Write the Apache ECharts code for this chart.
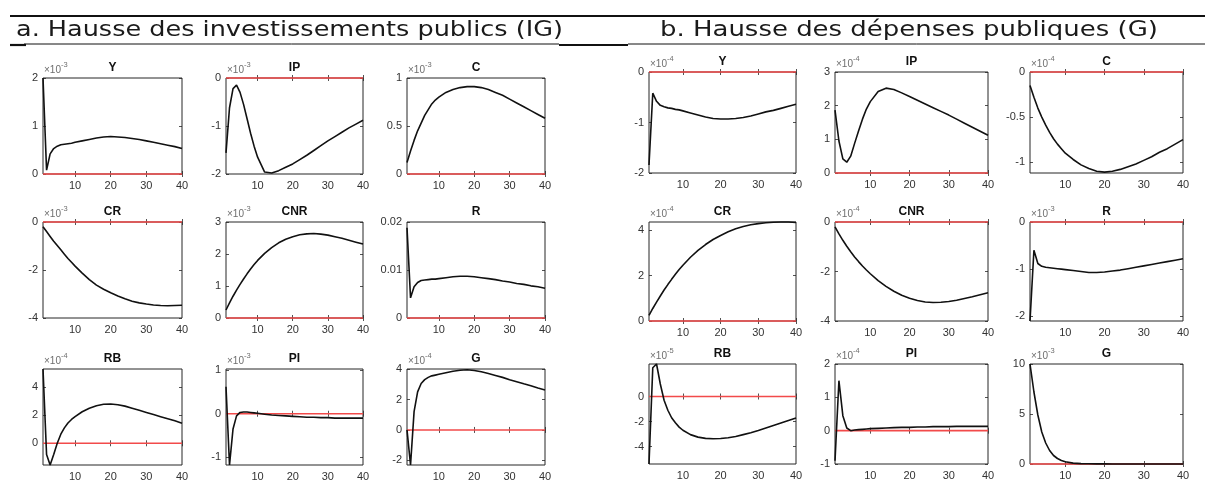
<!DOCTYPE html>
<html>
<head>
<meta charset="utf-8">
<script src="https://cdn.jsdelivr.net/npm/echarts@6/dist/echarts.min.js"></script>
<style>
  html, body { margin: 0; padding: 0; background: #fff; }
  #chart { width: 1211px; height: 491px; }
</style>
</head>
<body>
<div id="chart"></div>
<script>
// Horizons (quarters) at which each impulse response is sampled
const steps = [1,2,3,4,5,6,7,8,9,10,12,14,16,18,20,22,24,26,28,30,32,34,36,38,40];
const xTicks = [10, 20, 30, 40];
const varNames = ['Y', 'IP', 'C', 'CR', 'CNR', 'R', 'RB', 'PI', 'G'];
const panelTitles = ['a. Hausse des investissements publics (IG)', 'b. Hausse des dépenses publiques (G)'];

// Panel a: public investment shock (values in units of 10^exp)
const igY   = [2.0,0.08,0.42,0.53,0.58,0.61,0.62,0.63,0.64,0.66,0.69,0.72,0.75,0.77,0.78,0.77,0.76,0.74,0.72,0.69,0.66,0.63,0.6,0.57,0.53];
const igIP  = [-1.56,-0.62,-0.22,-0.15,-0.3,-0.55,-0.85,-1.15,-1.42,-1.65,-1.96,-1.98,-1.93,-1.86,-1.79,-1.7,-1.61,-1.51,-1.41,-1.31,-1.22,-1.13,-1.04,-0.96,-0.88];
const igC   = [0.12,0.24,0.35,0.45,0.53,0.61,0.67,0.73,0.77,0.8,0.85,0.88,0.9,0.91,0.91,0.9,0.88,0.85,0.82,0.78,0.74,0.7,0.66,0.62,0.58];
const igCR  = [-0.2,-0.4,-0.6,-0.8,-0.98,-1.16,-1.34,-1.52,-1.68,-1.84,-2.13,-2.4,-2.63,-2.8,-2.95,-3.08,-3.2,-3.3,-3.37,-3.42,-3.46,-3.48,-3.49,-3.48,-3.47];
const igCNR = [0.25,0.47,0.68,0.87,1.05,1.22,1.38,1.53,1.67,1.8,2.02,2.2,2.35,2.46,2.54,2.6,2.63,2.64,2.62,2.59,2.54,2.49,2.43,2.37,2.31];
const igR   = [0.0188,0.0042,0.0065,0.0074,0.0078,0.0079,0.008,0.0081,0.0081,0.0082,0.0084,0.0086,0.0087,0.0087,0.0086,0.0084,0.0082,0.008,0.0077,0.0075,0.0072,0.007,0.0067,0.0065,0.0062];
const igRB  = [5.3,-0.8,-1.55,-0.8,0.0,0.65,1.1,1.45,1.7,1.9,2.25,2.5,2.68,2.78,2.8,2.75,2.65,2.5,2.35,2.2,2.05,1.9,1.75,1.6,1.43];
const igPI  = [0.62,-1.18,-0.35,-0.05,0.03,0.04,0.04,0.03,0.02,0.01,-0.01,-0.03,-0.04,-0.05,-0.06,-0.07,-0.08,-0.08,-0.09,-0.09,-0.1,-0.1,-0.1,-0.1,-0.1];
const igG   = [0.0,-2.3,1.2,2.5,3.05,3.3,3.45,3.55,3.6,3.65,3.75,3.85,3.92,3.95,3.9,3.82,3.7,3.58,3.45,3.3,3.17,3.03,2.9,2.75,2.62];
const igExp    = [-3, -3, -3, -3, -3, null, -4, -3, -4];
const igRange  = [[0,2], [-2,0], [0,1], [-4,0], [0,3], [0,0.02], [-1.55,5.3], [-1.18,1.03], [-2.3,4]];
const igTicks  = [[0,1,2], [-2,-1,0], [0,0.5,1], [-4,-2,0], [0,1,2,3], [0,0.01,0.02], [0,2,4], [-1,0,1], [-2,0,2,4]];

// Panel b: public spending shock (values in units of 10^exp)
const gY   = [-1.84,-0.42,-0.58,-0.66,-0.69,-0.71,-0.72,-0.74,-0.75,-0.77,-0.81,-0.85,-0.89,-0.92,-0.93,-0.93,-0.92,-0.9,-0.87,-0.83,-0.79,-0.76,-0.72,-0.68,-0.64];
const gIP  = [1.87,0.95,0.42,0.32,0.5,0.88,1.25,1.6,1.9,2.12,2.42,2.52,2.48,2.38,2.27,2.16,2.05,1.94,1.83,1.72,1.6,1.48,1.36,1.24,1.12];
const gC   = [-0.15,-0.28,-0.4,-0.5,-0.59,-0.67,-0.74,-0.8,-0.85,-0.9,-0.97,-1.03,-1.07,-1.1,-1.11,-1.1,-1.08,-1.05,-1.02,-0.98,-0.94,-0.89,-0.85,-0.8,-0.75];
const gCR  = [0.25,0.55,0.83,1.1,1.36,1.6,1.83,2.05,2.26,2.45,2.8,3.1,3.36,3.58,3.76,3.92,4.05,4.15,4.23,4.28,4.32,4.34,4.35,4.35,4.33];
const gCNR = [-0.2,-0.48,-0.74,-0.98,-1.2,-1.41,-1.6,-1.78,-1.94,-2.09,-2.37,-2.6,-2.8,-2.96,-3.08,-3.17,-3.23,-3.25,-3.24,-3.21,-3.16,-3.09,-3.02,-2.94,-2.86];
const gR   = [-2.1,-0.6,-0.88,-0.94,-0.96,-0.97,-0.98,-0.99,-1.0,-1.01,-1.03,-1.05,-1.07,-1.07,-1.06,-1.04,-1.02,-0.99,-0.96,-0.93,-0.9,-0.87,-0.84,-0.81,-0.78];
const gRB  = [-5.4,2.3,2.6,1.0,-0.3,-1.1,-1.7,-2.1,-2.45,-2.7,-3.05,-3.25,-3.35,-3.38,-3.36,-3.3,-3.2,-3.05,-2.9,-2.72,-2.52,-2.32,-2.12,-1.92,-1.72];
const gPI  = [-0.9,1.5,0.45,0.08,0.0,0.02,0.03,0.04,0.05,0.06,0.07,0.08,0.09,0.1,0.1,0.11,0.11,0.12,0.12,0.12,0.13,0.13,0.13,0.13,0.13];
const gG   = [10,7.2,4.9,3.2,2.1,1.35,0.85,0.55,0.35,0.22,0.09,0.04,0.02,0.01,0.01,0,0,0,0,0,0,0,0,0,0];
const gExp    = [-4, -4, -4, -4, -4, -3, -5, -4, -3];
const gRange  = [[-2,0], [0,3], [-1.12,0], [0,4.35], [-4,0], [-2.1,0], [-5.4,2.6], [-1,2], [0,10]];
const gTicks  = [[-2,-1,0], [0,1,2,3], [-1,-0.5,0], [0,2,4], [-4,-2,0], [-2,-1,0], [-4,-2,0], [-1,0,1,2], [0,5,10]];

// Layout of the 3x3 subplot blocks (pixel edges of each axes box)
const layouts = [
  { cols: [[43,182],[226,363],[407,545]], rows: [[78,174],[222,318],[369,465]] },
  { cols: [[649,796],[835,988],[1030,1183]], rows: [[72,173],[222,321],[364,464]] }
];

const panels = [
  { series: [igY, igIP, igC, igCR, igCNR, igR, igRB, igPI, igG], exp: igExp, range: igRange, ticks: igTicks },
  { series: [gY, gIP, gC, gCR, gCNR, gR, gRB, gPI, gG], exp: gExp, range: gRange, ticks: gTicks }
];

const INK = '#262626';
const LABEL = { fontFamily: 'Liberation Sans, Arial, sans-serif', fontSize: 11, color: '#333' };

const grid = [], xAxis = [], yAxis = [], series = [], graphic = [];

panels.forEach((panel, p) => {
  const lay = layouts[p];
  varNames.forEach((name, k) => {
    const [x0, x1] = lay.cols[k % 3];
    const [y0, y1] = lay.rows[Math.floor(k / 3)];
    const g = grid.length;
    grid.push({ left: x0, top: y0, width: x1 - x0, height: y1 - y0, show: true,
                borderColor: INK, borderWidth: 1, backgroundColor: '#fff', containLabel: false });

    const xBase = xAxis.length;
    xAxis.push({ gridIndex: g, type: 'value', min: 1, max: 40, position: 'bottom',
      axisLine: { show: false }, splitLine: { show: false },
      axisTick: { show: true, inside: true, length: 3, customValues: xTicks, lineStyle: { color: INK, width: 0.8 } },
      axisLabel: Object.assign({ customValues: xTicks, margin: 6 }, LABEL) });
    xAxis.push({ gridIndex: g, type: 'value', min: 1, max: 40, position: 'top',
      axisLine: { show: false }, splitLine: { show: false }, axisLabel: { show: false },
      axisTick: { show: true, inside: true, length: 3, customValues: xTicks, lineStyle: { color: INK, width: 0.8 } } });

    const [lo, hi] = panel.range[k];
    const tv = panel.ticks[k];
    const e = panel.exp[k];
    const yBase = yAxis.length;
    yAxis.push({ gridIndex: g, type: 'value', min: lo, max: hi, position: 'left',
      axisLine: { show: false }, splitLine: { show: false },
      axisTick: { show: true, inside: true, length: 3, customValues: tv, lineStyle: { color: INK, width: 0.8 } },
      axisLabel: Object.assign({ customValues: tv, margin: 5 }, LABEL),
      name: e === null ? '' : '{a|×10}{b|' + e + '}',
      nameLocation: 'end', nameGap: 3,
      nameTextStyle: { align: 'left', verticalAlign: 'bottom', padding: [0, 0, 0, 1],
        rich: {
          a: { fontFamily: 'Liberation Sans, Arial, sans-serif', fontSize: 10, color: '#6e6e6e', verticalAlign: 'bottom', lineHeight: 14 },
          b: { fontFamily: 'Liberation Sans, Arial, sans-serif', fontSize: 7.5, color: '#6e6e6e', verticalAlign: 'top', lineHeight: 14, padding: [0, 0, 6, 0] }
        } } });
    yAxis.push({ gridIndex: g, type: 'value', min: lo, max: hi, position: 'right',
      axisLine: { show: false }, splitLine: { show: false }, axisLabel: { show: false },
      axisTick: { show: true, inside: true, length: 3, customValues: tv, lineStyle: { color: INK, width: 0.8 } } });

    // zero reference line
    series.push({ type: 'line', xAxisIndex: xBase, yAxisIndex: yBase, data: [[1, 0], [40, 0]],
      symbol: 'none', clip: false, silent: true, z: 3,
      lineStyle: { color: '#f24a4a', width: 1.6 } });
    // impulse response
    const vals = panel.series[k];
    series.push({ type: 'line', xAxisIndex: xBase, yAxisIndex: yBase,
      data: steps.map((t, i) => [t, vals[i]]),
      symbol: 'none', clip: false, silent: true, z: 4,
      lineStyle: { color: '#111', width: 1.6 } });

    // subplot title
    graphic.push({ type: 'text', x: (x0 + x1) / 2, y: y0 - 10, z: 10,
      style: { text: name, font: 'bold 12px "Liberation Sans", Arial, sans-serif', fill: '#111',
               align: 'center', verticalAlign: 'middle', textAlign: 'center', textVerticalAlign: 'middle' } });
  });
});

// Header rules and panel headings
const rule = (x1, y1, x2, y2, w) => ({ type: 'line', z: 10, shape: { x1, y1, x2, y2 }, style: { stroke: '#111', lineWidth: w } });
graphic.push(rule(10, 16, 1205, 16, 2));
graphic.push(rule(24, 44, 559, 44, 1));
graphic.push(rule(628, 44, 1205, 44, 1));
graphic.push(rule(10, 45, 26, 45, 2.2));
graphic.push(rule(559, 45, 628, 45, 2.2));
const headX = [16, 660];
const headScale = [1.16, 1.18];
panelTitles.forEach((t, i) => {
  graphic.push({ type: 'text', x: headX[i], y: 41, scaleX: headScale[i], z: 10,
    style: { text: t, font: '22px "DejaVu Sans", sans-serif', fill: '#1a1a1a',
             align: 'left', verticalAlign: 'bottom', textAlign: 'left', textVerticalAlign: 'bottom' } });
});

const chart = echarts.init(document.getElementById('chart'), null, { renderer: 'canvas' });
chart.setOption({ animation: false, backgroundColor: '#fff', grid, xAxis, yAxis, series, graphic });
</script>
</body>
</html>
